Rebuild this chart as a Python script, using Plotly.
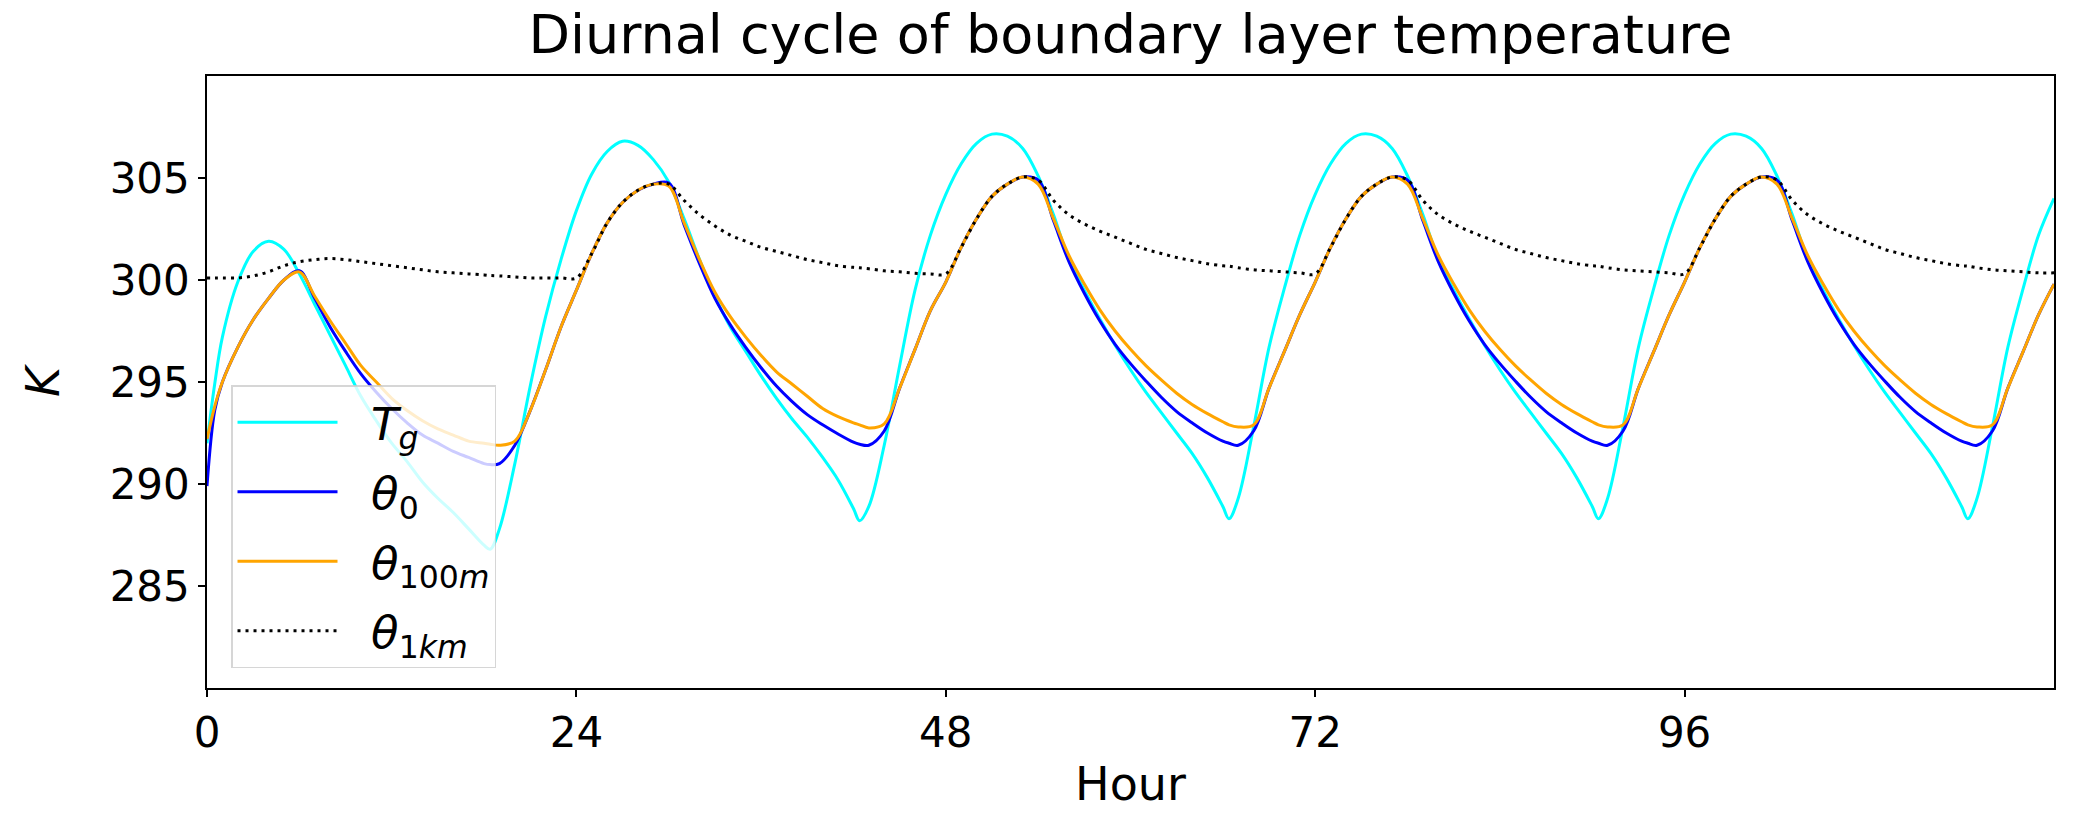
import plotly.graph_objects as go

# ---------------- data ----------------
hours = [
    0, 0.5, 1, 2, 3, 4, 5, 6, 7, 8, 9, 10, 11, 12, 13, 14, 15, 16, 17, 18, 18.4, 19, 20, 21, 22, 23,
    24, 25, 26, 27, 28, 29, 30, 31, 32, 33, 34, 35, 36, 37, 38, 39, 40, 41, 42, 42.4, 43, 44, 45, 46, 47,
    48, 49, 50, 51, 52, 53, 54, 55, 56, 57, 58, 59, 60, 61, 62, 63, 64, 65, 66, 66.4, 67, 68, 69, 70, 71,
    72, 73, 74, 75, 76, 77, 78, 79, 80, 81, 82, 83, 84, 85, 86, 87, 88, 89, 90, 90.4, 91, 92, 93, 94, 95,
    96, 97, 98, 99, 100, 101, 102, 103, 104, 105, 106, 107, 108, 109, 110, 111, 112, 113, 114, 114.4, 115, 116, 117, 118, 119,
    120,
]

t_ground = [
    292.0, 294.9, 297.2, 299.9, 301.4, 301.9, 301.5, 300.3, 298.8, 297.3, 295.8, 294.3, 293.1, 292.0, 291.1, 290.1, 289.3, 288.6, 287.8, 287.0, 286.8, 287.8, 291.0, 294.8, 298.2, 301.0,
    303.4, 305.2, 306.3, 306.8, 306.6, 305.9, 304.8, 303.0, 301.0, 299.2, 297.7, 296.5, 295.3, 294.2, 293.2, 292.3, 291.3, 290.2, 288.8, 288.2, 288.9, 291.9, 295.8, 299.5, 302.2,
    304.2, 305.7, 306.7, 307.15, 307.05, 306.45, 305.1, 303.2, 301.0, 299.5, 298.1, 296.8, 295.6, 294.5, 293.5, 292.5, 291.5, 290.3, 288.9, 288.3, 289.3, 292.8, 296.7, 299.6, 302.2,
    304.2, 305.7, 306.7, 307.15, 307.05, 306.45, 305.1, 303.2, 301.0, 299.5, 298.1, 296.8, 295.6, 294.5, 293.5, 292.5, 291.5, 290.3, 288.9, 288.3, 289.3, 292.8, 296.7, 299.6, 302.2,
    304.2, 305.7, 306.7, 307.15, 307.05, 306.45, 305.1, 303.2, 301.0, 299.5, 298.1, 296.8, 295.6, 294.5, 293.5, 292.5, 291.5, 290.3, 288.9, 288.3, 289.3, 292.8, 296.7, 299.6, 302.2,
    304.0,
]

theta_0 = [
    289.9, 293.6, 295.0, 296.7, 298.05, 299.1, 300.0, 300.45, 299.1, 297.7, 296.5, 295.4, 294.5, 293.7, 293.0, 292.4, 292.0, 291.6, 291.3, 291.0, 290.95, 291.0, 291.9, 293.6, 295.6, 297.7,
    299.5, 301.3, 302.8, 303.8, 304.4, 304.7, 304.75, 302.7, 300.8, 299.1, 297.8, 296.7, 295.7, 294.8, 294.05, 293.4, 292.9, 292.45, 292.05, 291.95, 291.9, 292.6, 294.7, 296.6, 298.5,
    299.9, 301.6, 303.0, 304.1, 304.7, 305.05, 304.9, 302.9, 300.9, 299.35, 298.0, 296.85, 295.9, 295.05, 294.25, 293.55, 293.0, 292.5, 292.1, 292.0, 291.9, 292.6, 294.7, 296.5, 298.3,
    299.9, 301.6, 303.0, 304.1, 304.7, 305.05, 304.9, 302.9, 300.9, 299.35, 298.0, 296.85, 295.9, 295.05, 294.25, 293.55, 293.0, 292.5, 292.1, 292.0, 291.9, 292.6, 294.7, 296.5, 298.3,
    299.9, 301.6, 303.0, 304.1, 304.7, 305.05, 304.9, 302.9, 300.9, 299.35, 298.0, 296.85, 295.9, 295.05, 294.25, 293.55, 293.0, 292.5, 292.1, 292.0, 291.9, 292.6, 294.7, 296.5, 298.3,
    299.8,
]

theta_100m = [
    292.2, 293.8, 295.0, 296.7, 298.05, 299.1, 300.0, 300.4, 299.2, 298.0, 296.9, 295.8, 295.0, 294.2, 293.6, 293.1, 292.7, 292.4, 292.1, 292.0, 291.95, 291.9, 292.1, 293.6, 295.6, 297.7,
    299.5, 301.3, 302.8, 303.8, 304.4, 304.7, 304.6, 302.8, 301.0, 299.4, 298.2, 297.2, 296.3, 295.5, 294.9, 294.3, 293.7, 293.3, 293.0, 292.9, 292.75, 292.95, 294.7, 296.6, 298.5,
    299.9, 301.6, 303.0, 304.1, 304.7, 305.05, 304.7, 303.0, 301.2, 299.8, 298.55, 297.5, 296.6, 295.8, 295.1, 294.45, 293.9, 293.45, 293.05, 292.9, 292.8, 292.9, 294.7, 296.5, 298.3,
    299.9, 301.6, 303.0, 304.1, 304.7, 305.05, 304.7, 303.0, 301.2, 299.8, 298.55, 297.5, 296.6, 295.8, 295.1, 294.45, 293.9, 293.45, 293.05, 292.9, 292.8, 292.9, 294.7, 296.5, 298.3,
    299.9, 301.6, 303.0, 304.1, 304.7, 305.05, 304.7, 303.0, 301.2, 299.8, 298.55, 297.5, 296.6, 295.8, 295.1, 294.45, 293.9, 293.45, 293.05, 292.9, 292.8, 292.9, 294.7, 296.5, 298.3,
    299.8,
]

theta_1km = [
    300.1, 300.1, 300.1, 300.1, 300.2, 300.4, 300.7, 300.9, 301.0, 301.05, 301.0, 300.9, 300.8, 300.7, 300.6, 300.5, 300.4, 300.35, 300.3, 300.25, 300.22, 300.2, 300.15, 300.1, 300.1, 300.1,
    300.1, 301.3, 302.8, 303.8, 304.4, 304.7, 304.7, 303.9, 303.2, 302.65, 302.2, 301.9, 301.6, 301.4, 301.2, 301.0, 300.85, 300.7, 300.62, 300.6, 300.55, 300.45, 300.4, 300.33, 300.3,
    300.3, 301.6, 303.0, 304.1, 304.7, 305.05, 304.9, 303.9, 303.2, 302.75, 302.4, 302.1, 301.8, 301.5, 301.3, 301.1, 300.95, 300.8, 300.7, 300.68, 300.6, 300.5, 300.45, 300.4, 300.35,
    300.3, 301.6, 303.0, 304.1, 304.7, 305.05, 304.9, 303.9, 303.2, 302.75, 302.4, 302.1, 301.8, 301.5, 301.3, 301.1, 300.95, 300.8, 300.7, 300.68, 300.6, 300.5, 300.45, 300.4, 300.35,
    300.3, 301.6, 303.0, 304.1, 304.7, 305.05, 304.9, 303.9, 303.2, 302.75, 302.4, 302.1, 301.8, 301.5, 301.3, 301.1, 300.95, 300.8, 300.7, 300.68, 300.6, 300.5, 300.45, 300.4, 300.35,
    300.35,
]

x_ticks = [0, 24, 48, 72, 96]
y_ticks = [285, 290, 295, 300, 305]

PAD = "\u00a0\u00a0"
series_names = [
    PAD + "<i>T</i><sub><i>g</i></sub>",
    PAD + "<i>θ</i><sub>0</sub>",
    PAD + "<i>θ</i><sub>100<i>m</i></sub>",
    PAD + "<i>θ</i><sub>1<i>km</i></sub>",
]
series_values = [t_ground, theta_0, theta_100m, theta_1km]
series_colors = ["#00ffff", "#0000ff", "#ffa500", "#000000"]
series_dash = ["solid", "solid", "solid", "3px,5px"]

# ---------------- figure ----------------
fig = go.Figure()
for i, (name, vals, col, dash) in enumerate(zip(series_names, series_values, series_colors, series_dash)):
    fig.add_trace(go.Scatter(
        x=hours, y=vals, mode="lines", name=name, legendgroup=f"g{i}",
        line=dict(color=col, width=3.0, dash=dash, shape="spline", smoothing=1.0),
    ))

axis_common = dict(
    showline=True, linewidth=1.6, linecolor="black", mirror=True,
    ticks="outside", ticklen=7, tickwidth=1.6, tickcolor="black",
    showgrid=False, zeroline=False,
    tickfont=dict(size=42, color="black", family="DejaVu Sans"),
)

fig.update_xaxes(range=[0, 120], tickvals=x_ticks, ticktext=[str(v) for v in x_ticks],
                 title=dict(text="Hour", font=dict(size=46, family="DejaVu Sans"), standoff=12),
                 **axis_common)
fig.update_yaxes(range=[280, 310], tickvals=y_ticks, ticktext=[str(v) for v in y_ticks],
                 title=dict(text="<i>K</i>", font=dict(size=46, family="DejaVu Sans"), standoff=36),
                 **axis_common)

fig.update_layout(
    width=2085, height=813,
    margin=dict(l=207, r=31, t=76, b=123),
    paper_bgcolor="white", plot_bgcolor="white",
    font=dict(family="DejaVu Sans", color="black", size=42),
    title=dict(text="Diurnal cycle of boundary layer temperature",
               x=0.5, xref="paper", xanchor="center",
               y=1 - 34 / 813, yref="container", yanchor="middle",
               font=dict(size=54, family="DejaVu Sans", color="black")),
    legend=dict(x=0.013, y=0.495, xanchor="left", yanchor="top",
                bgcolor="rgba(255,255,255,0.8)", bordercolor="rgba(204,204,204,0.8)",
                borderwidth=1.5, font=dict(size=45, family="DejaVu Sans", color="black"),
                itemwidth=100, tracegroupgap=8),
    showlegend=True,
)

fig.write_html("out.html", config={"displayModeBar": False},
               post_script="document.body.style.margin='0';")
